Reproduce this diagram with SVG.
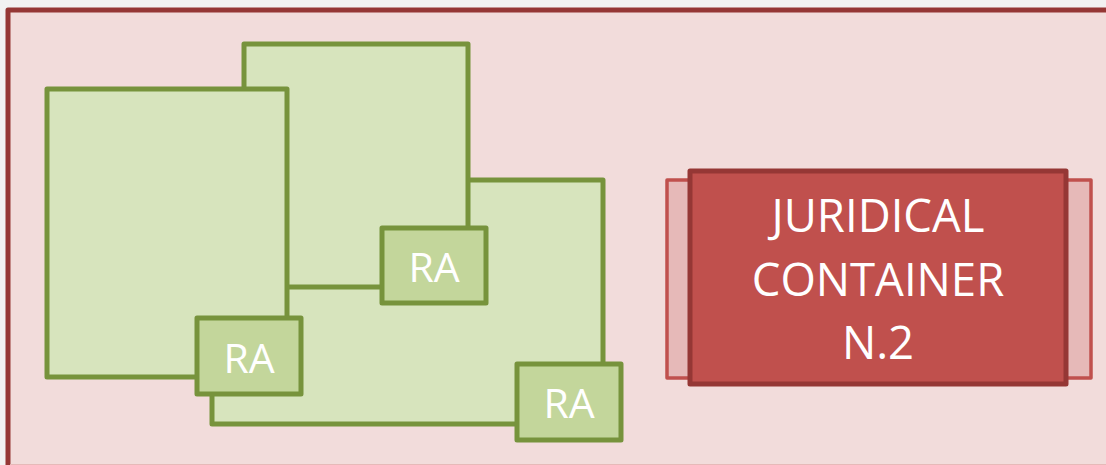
<svg xmlns="http://www.w3.org/2000/svg" width="1106" height="465" viewBox="0 0 1106 465">
<style>
.grp{fill:#D7E4BD;stroke:#77933C;stroke-width:5;stroke-linejoin:round}
.ra{fill:#C3D69B;stroke:#77933C;stroke-width:5;stroke-linejoin:round}
.t{font-family:"Open Sans","Liberation Sans",sans-serif;fill:#FFFFFF;text-anchor:middle}
</style>
<rect x="0" y="0" width="1106" height="465" fill="#F2F2F2"/>
<g id="container">
<rect x="8" y="10" width="1110" height="470" fill="#F2DCDB" stroke="#953735" stroke-width="5" stroke-linejoin="round"/>
<line x1="10" y1="464.5" x2="1106" y2="464.5" stroke="#E6B9B8" stroke-width="1"/>
</g>
<g id="group-c"><rect class="grp" x="212" y="180" width="391" height="244"/></g>
<g id="group-b"><rect class="grp" x="244" y="44" width="224" height="243"/></g>
<g id="group-a"><rect class="grp" x="47" y="89" width="240" height="288"/></g>
<g id="ra1"><rect class="ra" x="382" y="228" width="104" height="75"/><text class="t" x="434" y="282" font-size="41">RA</text></g>
<g id="ra2"><rect class="ra" x="197" y="318" width="104" height="76"/><text class="t" x="249" y="373" font-size="41">RA</text></g>
<g id="ra3"><rect class="ra" x="517" y="364" width="104" height="76"/><text class="t" x="569" y="418" font-size="41">RA</text></g>
<g id="juridical">
<rect x="667" y="180" width="424" height="198" fill="#E6B9B8" stroke="#C0504D" stroke-width="3.5" stroke-linejoin="round"/>
<rect x="690" y="171" width="376" height="213" fill="#C0504D" stroke="#953735" stroke-width="5" stroke-linejoin="round"/>
<text class="t" font-size="45.5"><tspan x="878" y="232">JURIDICAL</tspan><tspan x="878" y="296">CONTAINER</tspan><tspan x="878" y="359">N.2</tspan></text>
</g>
<g id="connectors"></g>
</svg>
